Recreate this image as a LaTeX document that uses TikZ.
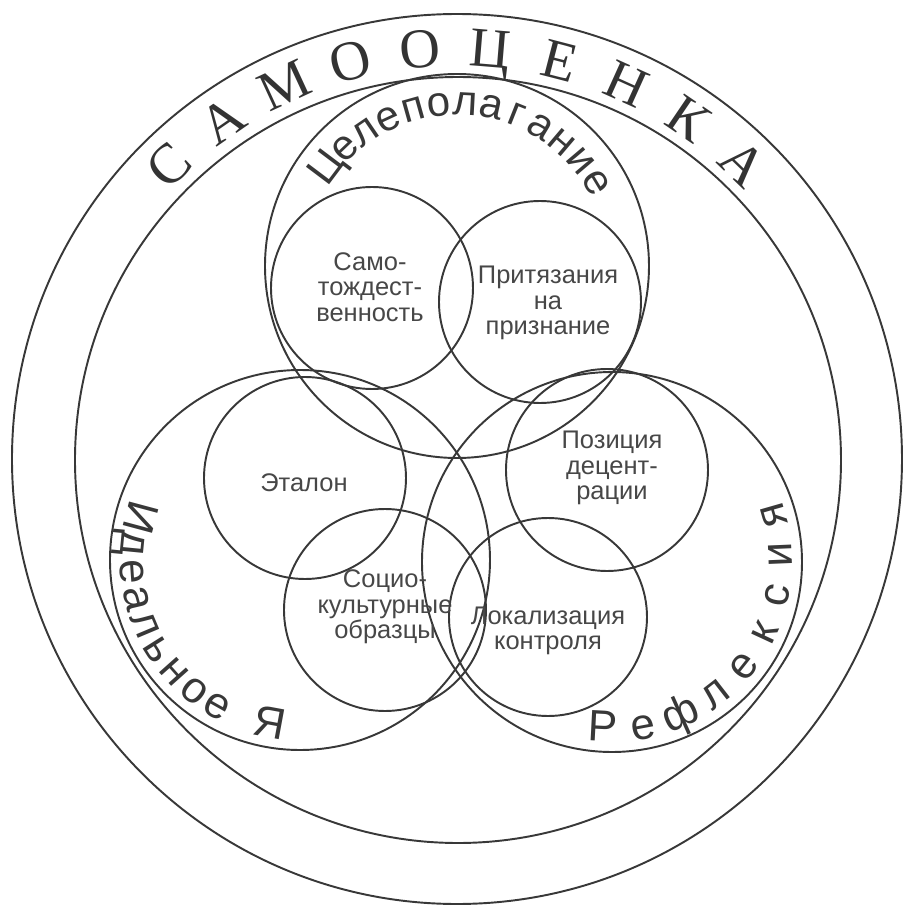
\documentclass[tikz,border=0pt]{standalone}
\usepackage{fontspec}
\setmainfont{Liberation Sans}
\newfontfamily\titlefont{Liberation Serif}
\usetikzlibrary{positioning}

\begin{document}
\begin{tikzpicture}[
  x=0.02cm, y=0.02cm,
  ring/.style={draw=black!78, line width=1.1pt},
  lbl/.style={align=center, text=black!72, inner sep=0pt, font=\fontsize{14.5}{14.6}\selectfont},
  bigletter/.style={anchor=base, inner sep=0pt, text=black!80, font=\titlefont\fontsize{32}{32}\selectfont},
  arcletter/.style={anchor=base, inner sep=0pt, text=black!78, font=\fontsize{24}{24}\selectfont},
  sideletter/.style={anchor=base, inner sep=0pt, text=black!78, font=\fontsize{25}{25}\selectfont}
]
\useasboundingbox (-457,-448) rectangle (446,459);

% outer rings
\draw[ring] (0,0) circle[radius=445];
\draw[ring] (1,-1) circle[radius=383];

% three main spheres
\draw[ring] (0,193) circle[radius=192];
\draw[ring] (-157,-101) circle[radius=190];
\draw[ring] (155,-103) circle[radius=190];

% inner components
\draw[ring] (-85,171) circle[radius=101];
\draw[ring] (83,157) circle[radius=101];
\draw[ring] (-152,-19) circle[radius=101];
\draw[ring] (150,-11) circle[radius=101];
\draw[ring] (-72,-151) circle[radius=101];
\draw[ring] (91,-158) circle[radius=99];

\node[lbl] (ident)   at (-87,172)  {Само-\\тождест-\\венность};
\node[lbl] (claim)   at (91,156)   {Притязания\\на\\признание};
\node[lbl] (etalon)  at (-153,-24) {Эталон};
\node[lbl] (decentr) at (155,-9)   {Позиция\\децент-\\рации};
\node[lbl] (socio)   at (-72,-148) {Социо-\\культурные\\образцы};
\node[lbl] (locus)   at (91,-172)  {Локализация\\контроля};

% curved titles
\foreach \a/\ch [count=\i] in {134.5/С,124.7/А,114.8/М,105/О,95.2/О,85.3/Ц,75.5/Е,65.7/Н,55.8/К,46/А}
  \node[bigletter, rotate=\a-90] (self-\i) at (\a:393) {\ch};

\begin{scope}[shift={(0,193)}]
\foreach \a/\ch [count=\i] in {143/Ц,133.67/е,124.33/л,115/е,105.67/п,96.33/о,87/л,77.67/а,68.33/г,59/а,49.67/н,40.33/и,31/е}
  \node[arcletter, rotate=\a-90] (goal-\i) at (\a:151) {\ch};
\end{scope}

\begin{scope}[shift={(-157,-101)}]
\foreach \a/\ch [count=\i] in {165/И,174.45/д,183.9/е,193.35/а,202.8/л,212.25/ь,221.7/н,231.15/о,240.6/е,259.5/Я}
  \node[sideletter, rotate=\a+90] (ideal-\i) at (\a:180) {\ch};
\end{scope}

\begin{scope}[shift={(155,-103)}]
\foreach \a/\ch [count=\i] in {267/Р,280.6/е,294.2/ф,307.9/л,321.5/е,335.1/к,348.7/с,362.4/и,376/я}
  \node[sideletter, rotate=\a+90] (refl-\i) at (\a:180) {\ch};
\end{scope}
\end{tikzpicture}
\end{document}
